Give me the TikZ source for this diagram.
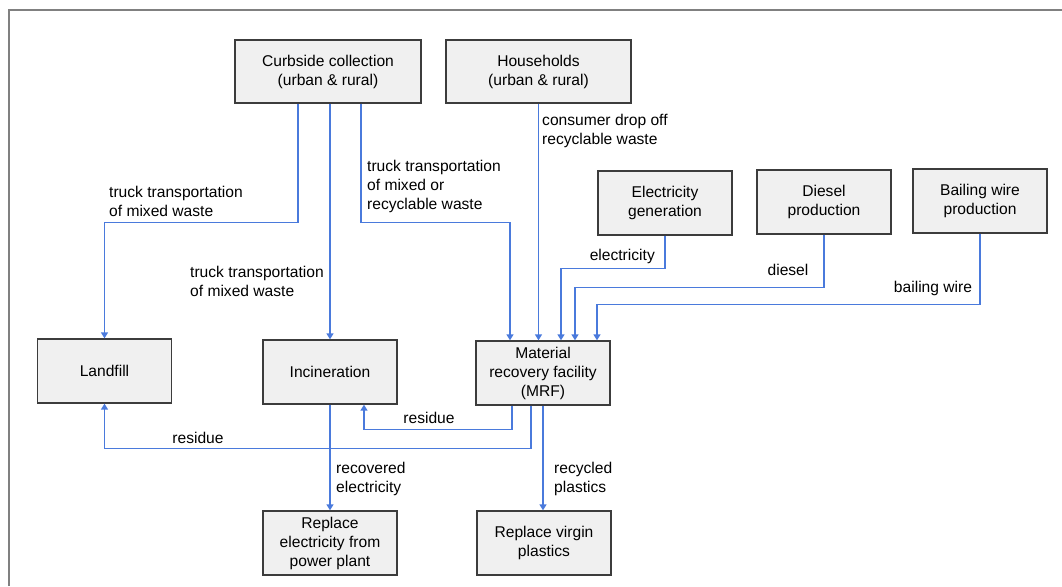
\documentclass[tikz,border=0pt]{standalone}
\usepackage{fontspec}
\setmainfont{Liberation Sans}
\usetikzlibrary{arrows.meta}
\definecolor{flowblue}{RGB}{74,122,220}
\definecolor{boxfill}{RGB}{240,240,240}
\definecolor{boxline}{RGB}{60,60,60}
\begin{document}
\begin{tikzpicture}[
  x=1pt, y=1pt,
  font=\fontsize{15.6}{19}\selectfont,
  proc/.style={draw=boxline, fill=boxfill, line width=1.3pt, align=center,
    minimum width=134pt, minimum height=64pt, inner sep=0pt},
  flow/.style={draw=flowblue, line width=1.4pt, -{Triangle[width=7pt,length=6pt]}},
  lbl/.style={align=left, inner sep=0pt}
]
\useasboundingbox (0,0) rectangle (1062,586);
\draw[gray, line width=1.5pt] (9,0) |- (1062,576);

\node[proc, minimum width=186pt, minimum height=63pt] (cc) at (328,514.5)
  {Curbside collection\\(urban \& rural)};
\node[proc, minimum width=185pt, minimum height=63pt] (hh) at (538.5,514.5)
  {Households\\(urban \& rural)};
\node[proc] (eg) at (665,383) {Electricity\\generation};
\node[proc] (dp) at (824,384) {Diesel\\production};
\node[proc] (bw) at (980,385) {Bailing wire\\production};
\node[proc] (lf) at (104.5,215) {Landfill};
\node[proc] (inc) at (330,214) {Incineration};
\node[proc] (mrf) at (543,213) {Material\\recovery facility\\(MRF)};
\node[proc] (rep) at (330,43) {Replace\\electricity from\\power plant};
\node[proc] (rvp) at (544,43) {Replace virgin\\plastics};

\draw[flow] ([xshift=-30]cc.south) -- ++(0,-119) -| (lf.north);
\draw[flow] (inc.north |- cc.south) -- (inc.north);
\draw[flow] ([xshift=33]cc.south) -- ++(0,-119) -| ([xshift=-33]mrf.north);
\draw[flow] (hh.south) -- (hh.south |- mrf.north);
\draw[flow] (eg.south) -- ++(0,-33) -| ([xshift=18]mrf.north);
\draw[flow] (dp.south) -- ++(0,-53) -| ([xshift=32]mrf.north);
\draw[flow] (bw.south) -- ++(0,-71) -| ([xshift=54]mrf.north);
\draw[flow] ([xshift=-31]mrf.south) -- ++(0,-24) -| ([xshift=34]inc.south);
\draw[flow] ([xshift=-12]mrf.south) -- ++(0,-43) -| (lf.south);
\draw[flow] (inc.south) -- (rep.north);
\draw[flow] (mrf.south) -- (mrf.south |- rvp.north);

\node[lbl, anchor=west] (l1) at (109,385) {truck transportation\\of mixed waste};
\node[lbl, anchor=west] (l2) at (190,304.5) {truck transportation\\of mixed waste};
\node[lbl, anchor=west] (l3) at (367,400) {truck transportation\\of mixed or\\recyclable waste};
\node[lbl, anchor=west] (l4) at (542,455) {consumer drop off\\recyclable waste};
\node[lbl, anchor=east] (l5) at (655,330) {electricity};
\node[lbl] (l6) at (788,316) {diesel};
\node[lbl] (l7) at (933,298) {bailing wire};
\node[lbl] (l8) at (429,168) {residue};
\node[lbl] (l9) at (198,148) {residue};
\node[lbl, anchor=west] (l10) at (336,107.5) {recovered\\electricity};
\node[lbl, anchor=west] (l11) at (554,107.5) {recycled\\plastics};
\end{tikzpicture}
\end{document}
